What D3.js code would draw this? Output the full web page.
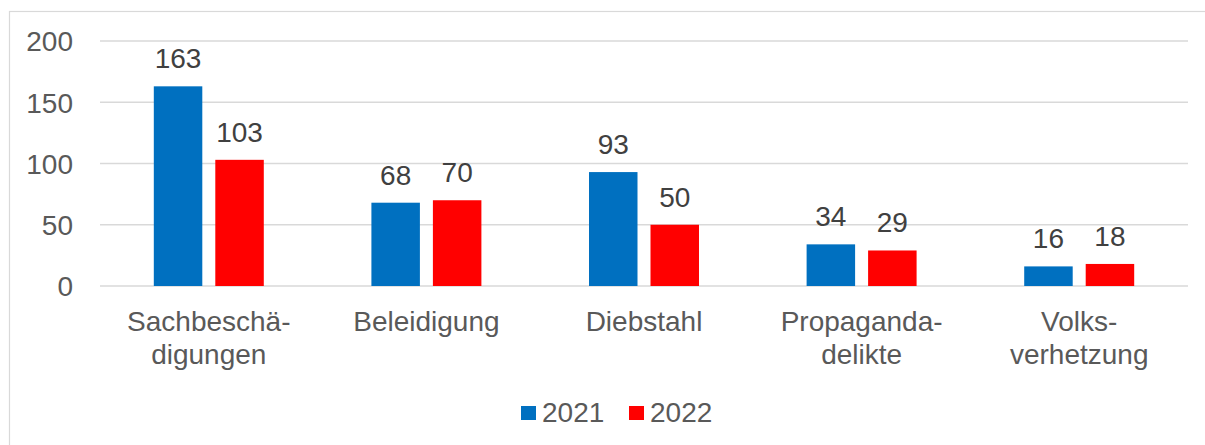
<!DOCTYPE html>
<html><head><meta charset="utf-8">
<script src="https://cdn.jsdelivr.net/npm/d3@7"></script>
<style>
html,body{margin:0;padding:0;background:#fff;}
svg{display:block;font-family:"Liberation Sans",Arial,Helvetica,sans-serif;}
</style></head>
<body>
<svg id="c" width="1205" height="445"></svg>
<script>
const categories = [["Sachbeschä-","digungen"],["Beleidigung"],["Diebstahl"],["Propaganda-","delikte"],["Volks-","verhetzung"]];
const seriesNames = ["2021","2022"];
const values2021 = [163,68,93,34,16];
const values2022 = [103,70,50,29,18];
const yTicks = [0,50,100,150,200];
const colors = ["#0070C0","#FF0000"];

(function(){
const svg = d3.select("#c");
svg.append("rect").attr("x",9.5).attr("y",11.5).attr("width",1205).attr("height",445)
  .attr("fill","none").attr("stroke","#d9d9d9").attr("stroke-width",1.2);

const pLeft=100, pRight=1188, pTop=41, pBottom=286;
const catKeys = categories.map(c=>c.join(" "));
const x0 = d3.scaleBand().domain(catKeys).range([pLeft,pRight]).padding(0);
const x1 = d3.scaleBand().domain(seriesNames).range([0,x0.bandwidth()]).paddingInner(0.2114).paddingOuter(0.875);
const y = d3.scaleLinear().domain([0,200]).range([pBottom,pTop]);

svg.append("g").selectAll("line").data(yTicks).join("line")
  .attr("x1",pLeft).attr("x2",pRight).attr("y1",d=>y(d)).attr("y2",d=>y(d))
  .attr("stroke","#d9d9d9").attr("stroke-width",1.5);

const yAxis = d3.axisLeft(y).tickValues(yTicks).tickSize(0).tickPadding(0);
const ga = svg.append("g").attr("transform",`translate(${pLeft-27},0)`).call(yAxis);
ga.select(".domain").remove();
ga.selectAll("text").attr("font-size",28).attr("fill","#595959").attr("font-family","Liberation Sans, Arial, sans-serif").attr("dy","0.35em");

const data = catKeys.map((k,i)=>({k, vals:[values2021[i],values2022[i]]}));
const groups = svg.append("g").selectAll("g").data(data).join("g")
  .attr("transform",d=>`translate(${x0(d.k)},0)`);
groups.selectAll("rect").data(d=>d.vals.map((v,j)=>({s:seriesNames[j],v,j}))).join("rect")
  .attr("x",d=>x1(d.s)).attr("width",x1.bandwidth())
  .attr("y",d=>y(d.v)).attr("height",d=>y(0)-y(d.v))
  .attr("fill",d=>colors[d.j]);
groups.selectAll("text").data(d=>d.vals.map((v,j)=>({s:seriesNames[j],v,j}))).join("text")
  .attr("x",d=>x1(d.s)+x1.bandwidth()/2).attr("y",d=>y(d.v)-18)
  .attr("text-anchor","middle").attr("font-size",28).attr("fill","#404040")
  .text(d=>d.v);

const cg = svg.append("g").selectAll("text").data(categories).join("text")
  .attr("x",(d,i)=>x0(catKeys[i])+x0.bandwidth()/2).attr("y",331)
  .attr("text-anchor","middle").attr("font-size",28).attr("fill","#595959");
cg.selectAll("tspan").data(d=>d).join("tspan")
  .attr("x",function(){return this.parentNode.getAttribute("x");})
  .attr("dy",(d,i)=>i===0?0:33).text(d=>d);

const legendX = [521, 629];
const lg = svg.append("g").selectAll("g").data(seriesNames).join("g")
  .attr("transform",(d,i)=>`translate(${legendX[i]},0)`);
lg.append("rect").attr("x",0).attr("y",406).attr("width",15).attr("height",14).attr("fill",(d,i)=>colors[i]);
lg.append("text").attr("x",21).attr("y",422).attr("font-size",28).attr("fill","#595959").text(d=>d);
})();
</script>
</body></html>
